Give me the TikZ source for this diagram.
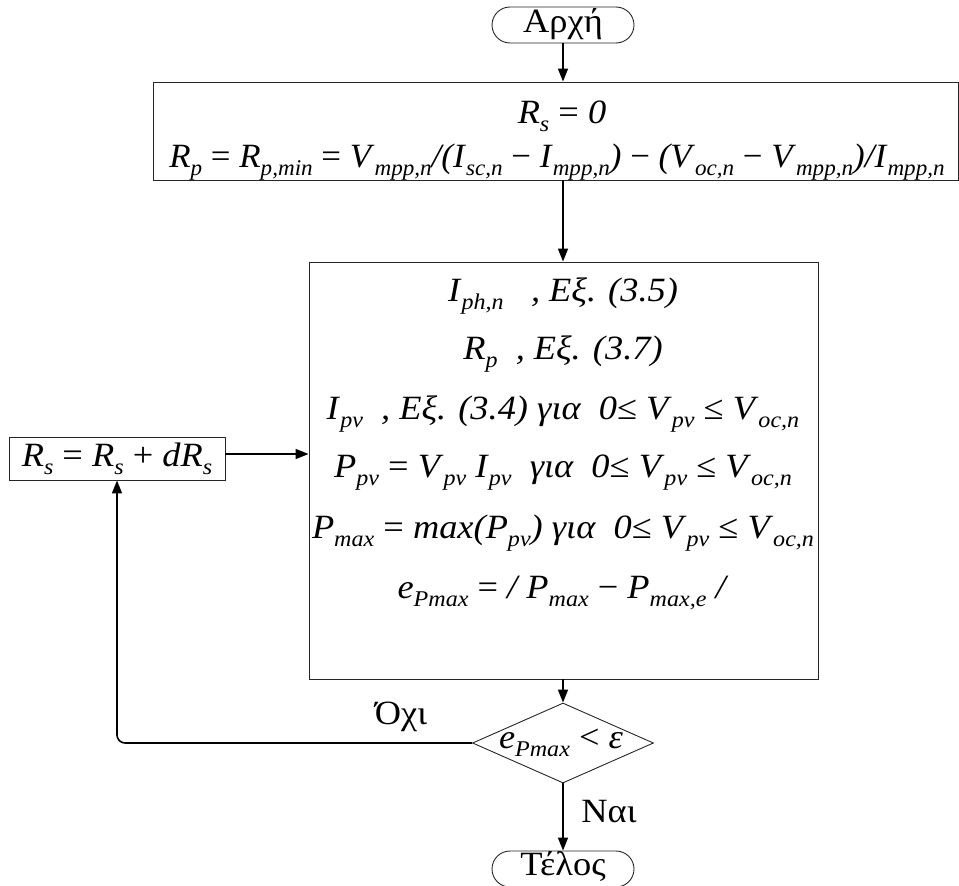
\documentclass[tikz,border=0pt]{standalone}
\usepackage{fontspec}
\setmainfont{Liberation Serif}[FakeStretch=1.07]
\usetikzlibrary{arrows.meta,shapes.geometric,shapes.misc}
\newcommand\sbi[1]{\raisebox{-0.24em}{\fontsize{22.5}{22.5}\selectfont\itshape #1}}
\tikzset{
  box/.style={draw=black!85, line width=0.9pt, inner sep=0pt, minimum width=#1},
  term/.style={draw=black!85, line width=0.9pt, rounded rectangle, inner sep=0pt, minimum width=142pt, minimum height=36pt},
  txt/.style={inner sep=0pt, font=\fontsize{34}{38}\selectfont},
  flow/.style={line width=1.6pt, -{Triangle[length=13pt,width=10pt]}},
}
\begin{document}
\begin{tikzpicture}[x=1pt,y=-1pt]
\useasboundingbox (0,0) rectangle (959,886);
% start and end terminals
\node[term] (start) at (563,25) {};
\node[txt] (startt) at (563,24) {Αρχή};
\node[term] (stop) at (563,869) {};
\node[txt] (stopt) at (563,867) {Τέλος};
% initialisation box
\node[box=805pt, minimum height=98pt] (init) at (555.5,131) {};
\node[txt] (i1) at (562,116) {\textit{R}\sbi{s} = \textit{0}};
\node[txt] (i2) at (557,162) {\scalebox{0.96}[1]{\textit{R}\sbi{p} = \textit{R}\sbi{p,min} = \textit{V}\sbi{mpp,n}\textit{/(I}\sbi{sc,n} − \textit{I}\sbi{mpp,n}\textit{)} − \textit{(V}\sbi{oc,n} − \textit{V}\sbi{mpp,n}\textit{)/I}\sbi{mpp,n}}};
% computation box
\node[box=509pt, minimum height=417pt] (calc) at (563.5,470.5) {};
\node[txt] (c1) at (563,296) {\textit{I}\sbi{ph,n}\ \ \ \textit{, Eξ. (3.5)}};
\node[txt] (c2) at (563,354) {\textit{R}\sbi{p}\ \ \textit{, Eξ. (3.7)}};
\node[txt] (c3) at (563,414) {\textit{I}\sbi{pv}\ \ \textit{, Eξ. (3.4) για\ \ 0}≤ \textit{V}\sbi{pv} ≤ \textit{V}\sbi{oc,n}};
\node[txt] (c4) at (563,473) {\textit{P}\sbi{pv} = \textit{V}\sbi{pv} \textit{I}\sbi{pv}\ \ \textit{για\ \ 0}≤ \textit{V}\sbi{pv} ≤ \textit{V}\sbi{oc,n}};
\node[txt] (c5) at (563,533) {\textit{P}\sbi{max} = \textit{max(P}\sbi{pv}\textit{) για\ \ 0}≤ \textit{V}\sbi{pv} ≤ \textit{V}\sbi{oc,n}};
\node[txt] (c6) at (563,593) {\textit{e}\sbi{Pmax} = \textit{/ P}\sbi{max} − \textit{P}\sbi{max,e} \textit{/}};
% increment box
\node[box=216pt, minimum height=43pt] (inc) at (117,458.5) {};
\node[txt] (inct) at (117,459) {\textit{R}\sbi{s} = \textit{R}\sbi{s} + \textit{dR}\sbi{s}};
% decision
\node[draw=black!85, line width=0.9pt, diamond, aspect=2.26, inner sep=0pt, minimum width=181pt, minimum height=80pt] (dec) at (563,743) {};
\node[txt] (dect) at (561,743) {\textit{e}\sbi{Pmax} < \textit{ε}};
% connectors
\draw[flow] (start) -- (init.north -| start);
\draw[flow] (init.south -| start) -- (calc.north -| start);
\draw[flow] (inc.east |- 0,454) -- (calc.west |- 0,454);
\draw[flow] (calc.south -| start) -- (dec);
\draw[flow] (dec) -- (stop);
\coordinate (corner) at (117,743);
\draw[flow, rounded corners=8pt] (dec.west) -- (corner) -- (inc.south);
\node[txt] (no) at (401,717) {Όχι};
\node[txt] (yes) at (609,812) {Ναι};
\end{tikzpicture}
\end{document}
